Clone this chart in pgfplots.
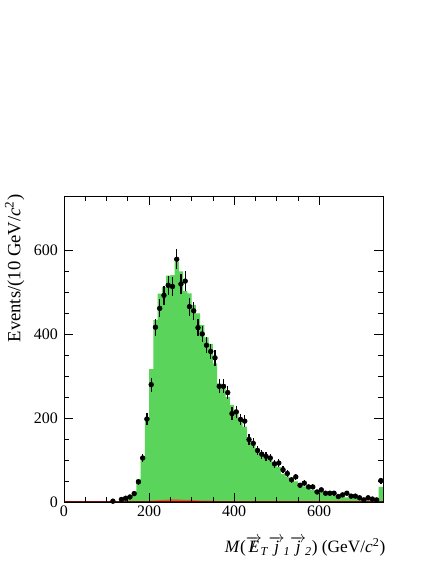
\documentclass[border=0pt]{standalone}
\usepackage{fontspec}
\setmainfont{Liberation Serif}
\usepackage{pgfplots}
\usepackage{pgfplotstable}
\pgfplotsset{compat=1.18}
\definecolor{mcgreen}{RGB}{90,212,90}
\definecolor{bkgred}{RGB}{228,88,40}
\definecolor{darkred}{RGB}{110,10,10}
\newcommand{\vt}[1]{$\overrightarrow{\mbox{#1}}$}

% simulation, 10 GeV bins (left edge, events)
\pgfplotstableread{
x mc
0 0
100 0.5
110 1
120 2
130 4
140 7
150 12
160 25
170 55
180 103
190 201
200 317
210 434
220 497
230 513
240 540
250 541
260 572
270 550
280 503
290 498
300 470
310 450
320 422
330 393
340 377
350 331
360 283
370 281
380 250
390 232
400 212
410 198
420 180
430 155
440 136
450 126
460 117
470 109
480 101
490 93
500 83
510 67
520 61
530 53
540 49
550 41
560 37
570 33
580 29
590 27
600 25
610 20
620 17
630 15
640 13
650 13
660 11
670 10
680 9
690 8
700 7
710 6
720 6
730 5
740 36
750 36
}\mctab

% small background component
\pgfplotstableread{
x bk
160 0
170 0.5
180 1
190 2
200 3
210 4
220 4.5
230 5
240 5.5
250 6
260 6
270 5.5
280 5
290 5
300 4.5
310 4
320 3.5
330 3
340 3
350 2.5
360 2
370 2
380 1.5
390 1.5
400 1
420 1
440 0.5
460 0
}\bktab

% data, bin centres
\pgfplotstableread{
x n
115 2
135 6
145 9
155 12
165 20
175 48
185 105
195 198
205 280
215 417
225 462
235 493
245 517
255 514
265 579
275 520
285 527
295 466
305 456
315 416
325 401
335 374
345 359
355 344
365 276
375 276
385 261
395 211
405 215
415 197
425 193
435 149
445 140
455 123
465 114
475 109
485 105
495 91
505 93
515 77
525 68
535 53
545 60
555 40
565 45
575 36
585 36
595 24
605 29
615 21
625 21
635 21
645 13
655 17
665 21
675 14
685 14
695 10
705 5
715 10
725 7
735 5
745 51
}\datatab

\begin{document}
\begin{tikzpicture}
\begin{axis}[
    name=ax,
    width=239.25pt, height=229.5pt,
    scale only axis,
    xmin=0, xmax=750, ymin=0, ymax=730,
    xtick={0,200,400,600}, ytick={0,200,400,600},
    minor x tick num=3, minor y tick num=3,
    tick align=inside,
    xtick pos=both, ytick pos=both,
    xticklabel pos=lower, yticklabel pos=left,
    major tick length=6.75pt, minor tick length=3.5pt,
    tick style={black, line width=0.5pt},
    axis line style={black, line width=0.6pt},
    tick label style={font=\fontsize{12}{14}\selectfont},
    xticklabel style={yshift=1pt},
    yticklabel style={xshift=-1pt},
    /pgf/number format/assume math mode=true,
    axis on top,
]
\addplot[fill=mcgreen, draw=none, const plot mark left] table[x=x, y=mc] {\mctab} \closedcycle;
\addplot[fill=bkgred, draw=none, const plot mark left] table[x=x, y=bk] {\bktab} \closedcycle;
\addplot[draw=darkred, line width=1.2pt] coordinates {(0,0) (750,0)};
\addplot[only marks, mark=*, mark size=1.8pt, black,
    error bars/.cd, y dir=both, y explicit,
    error mark=none, error bar style={line width=1pt, black}]
    table[x=x, y=n, y error expr=sqrt(\thisrow{n})] {\datatab};
\end{axis}
\node[rotate=90, anchor=east, font=\fontsize{14}{16}\selectfont]
    at ([xshift=-37pt, yshift=4.5pt]ax.north west) {Events/(10 GeV/\textit{c}\textsuperscript{2})};
\node[anchor=base east, font=\fontsize{13}{15}\selectfont, inner sep=0pt]
    at ([xshift=2pt, yshift=-38pt]ax.south east)
    {\textit{M}(\vt{\rlap{\kern0.12em/}\textit{E}}\textsubscript{\kern-0.1em\textit{T}}\vt{\textit{j}}\textsubscript{\kern-0.1em\textit{1}}\vt{\textit{j}}\textsubscript{\kern-0.1em\textit{2}}) (GeV/\textit{c}\textsuperscript{2})};
\path ([xshift=-48pt, yshift=-46.5pt]ax.south west) rectangle ++(327pt,423pt);
\end{tikzpicture}
\end{document}
